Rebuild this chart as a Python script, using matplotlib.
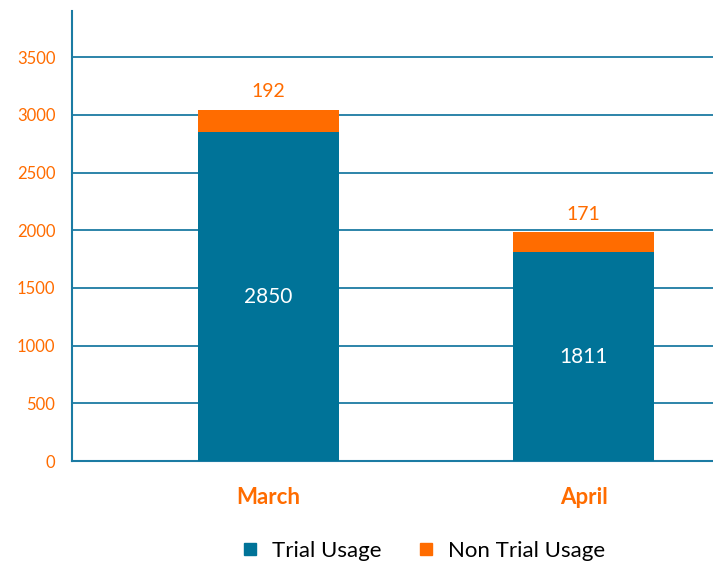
import matplotlib
matplotlib.use("Agg")
import matplotlib.pyplot as plt
from matplotlib.lines import Line2D

months = ["March", "April"]
trial_usage = [2850, 1811]
non_trial_usage = [192, 171]
yticks = [0, 500, 1000, 1500, 2000, 2500, 3000, 3500]
series_names = ["Trial Usage", "Non Trial Usage"]

TEAL = "#007398"
ORANGE = "#FF6C00"
GRID = "#1B7BA3"

plt.rcParams['font.family'] = ['Lato', 'DejaVu Sans']

fig = plt.figure(figsize=(7.13, 5.68), dpi=100)
ax = fig.add_axes([72/713, 1 - 461/568, (713-72)/713, (461-11)/568])

x = list(range(len(months)))
w = 0.448
ax.bar(x, trial_usage, width=w, color=TEAL, zorder=3)
ax.bar(x, non_trial_usage, width=w, bottom=trial_usage, color=ORANGE, zorder=3)

for xi, t, n in zip(x, trial_usage, non_trial_usage):
    ax.text(xi, t / 2, str(t), ha="center", va="center", color="white", fontsize=15, zorder=4)
    ax.annotate(str(n), (xi, t + n), xytext=(0, 7), textcoords="offset points",
                ha="center", va="bottom", color=ORANGE, fontsize=14)

ax.set_xlim(-0.624, 1.411)
ax.set_ylim(0, 3900)
ax.set_yticks(yticks)
ax.set_yticklabels([str(v) for v in yticks], color=ORANGE, fontsize=12)
ax.set_xticks(x)
ax.set_xticklabels(months, color=ORANGE, fontsize=16, fontweight="bold")
ax.tick_params(axis="y", length=0, pad=12)
ax.tick_params(axis="x", length=0, pad=19)
ax.yaxis.grid(True, color=GRID, linewidth=1.3, zorder=0)
ax.set_axisbelow(True)
for s in ["top", "right"]:
    ax.spines[s].set_visible(False)
for s in ["left", "bottom"]:
    ax.spines[s].set_color(GRID)
    ax.spines[s].set_linewidth(1.5)

handles = [Line2D([], [], marker="s", linestyle="none", markersize=9, color=TEAL),
           Line2D([], [], marker="s", linestyle="none", markersize=9, color=ORANGE)]
fig.legend(handles, series_names, loc="center", bbox_to_anchor=(423/713, 1 - 551/568),
           ncol=2, frameon=False, fontsize=16, handlelength=0.8, handletextpad=0.6,
           columnspacing=1.6)

fig.savefig("out.png", dpi=100)
